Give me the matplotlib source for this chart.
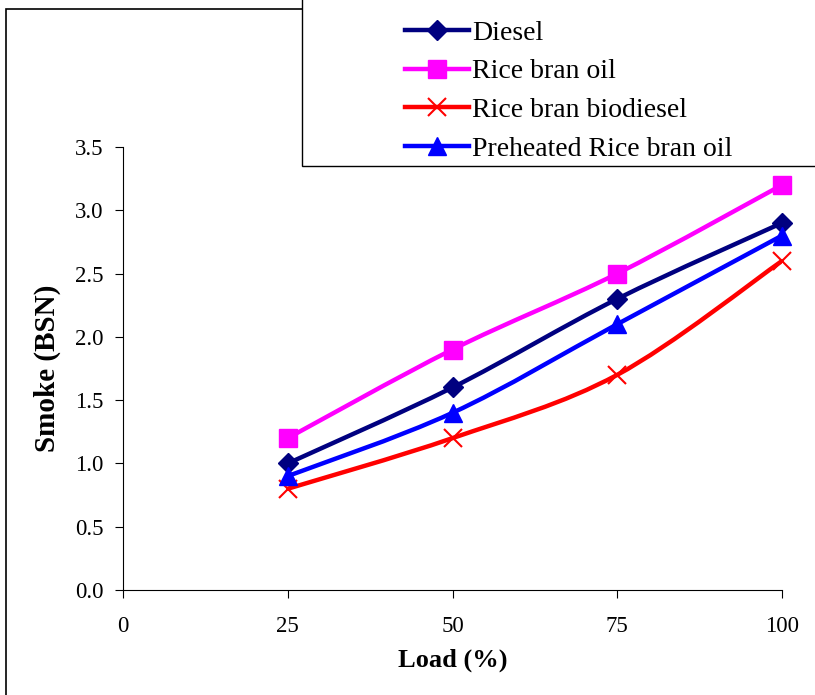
import numpy as np
import matplotlib.pyplot as plt
from matplotlib.path import Path
from matplotlib.patches import PathPatch, Rectangle
from matplotlib.lines import Line2D

plt.rcParams['font.family'] = ['Liberation Serif', 'DejaVu Serif']

# Data
load = [25, 50, 75, 100]
diesel = [1.0, 1.6, 2.3, 2.9]
rice_bran_oil = [1.2, 1.9, 2.5, 3.2]
rice_bran_biodiesel = [0.8, 1.2, 1.7, 2.6]
preheated_rbo = [0.9, 1.4, 2.1, 2.8]

series = [
    ("Diesel", diesel, '#000080', 'D', 10.5, 0),
    ("Rice bran oil", rice_bran_oil, '#FF00FF', 's', 13.5, 0),
    ("Rice bran biodiesel", rice_bran_biodiesel, '#FF0000', 'x', 13.5, 1.5),
    ("Preheated Rice bran oil", preheated_rbo, '#0000FF', '^', 13.5, 0),
]


def smooth_path(x, y):
    # Catmull-Rom style bezier through the points (like Excel smoothed lines)
    pts = np.column_stack([x, y]).astype(float)
    ext = np.vstack([pts[0], pts, pts[-1]])
    verts = [pts[0]]
    codes = [Path.MOVETO]
    for i in range(1, len(ext) - 2):
        p0, p1, p2, p3 = ext[i - 1], ext[i], ext[i + 1], ext[i + 2]
        c1 = p1 + (p2 - p0) / 6.0
        c2 = p2 - (p3 - p1) / 6.0
        verts += [c1, c2, p2]
        codes += [Path.CURVE4] * 3
    return Path(verts, codes)


fig = plt.figure(figsize=(8.15, 6.95), dpi=100)
ax = fig.add_axes([123 / 815, 1 - 590 / 695, (782 - 123) / 815, (590 - 147) / 695])

handles = []
for name, vals, color, mk, ms, mew in series:
    patch = PathPatch(smooth_path(load, vals), facecolor='none', edgecolor=color,
                      linewidth=3.2, transform=ax.transData, zorder=2)
    ax.add_patch(patch)
    ax.plot(load, vals, linestyle='none', marker=mk, markersize=ms, color=color,
            markeredgewidth=mew if mew else 1, zorder=3, clip_on=False)
    handles.append(Line2D([], [], color=color, linewidth=3.2, marker=mk,
                          markersize=ms, markeredgewidth=mew if mew else 1))

ax.set_xlim(0, 100)
ax.set_ylim(0, 3.5)
ax.set_xticks([0, 25, 50, 75, 100])
ax.set_yticks(np.arange(0, 3.51, 0.5))
ax.yaxis.set_major_formatter(plt.FuncFormatter(lambda v, p: f"{v:.1f}"))
ax.spines['top'].set_visible(False)
ax.spines['right'].set_visible(False)
ax.tick_params(axis='x', direction='out', length=6, pad=13, labelsize=16.5)
ax.tick_params(axis='y', direction='out', length=6, pad=8, labelsize=16.5)
ax.set_xlabel('Load (%)', fontsize=19, fontweight='bold', labelpad=8)
ax.set_ylabel('Smoke (BSN)', fontsize=21, fontweight='bold', labelpad=10)

# outer frame (left and top edges visible, the rest runs off the picture)
fig.add_artist(Rectangle((6 / 815, -0.5), 2.0, 1.5 - 9 / 695, transform=fig.transFigure,
                         facecolor='none', edgecolor='black', linewidth=1.2, clip_on=False))
# legend box
fig.add_artist(Rectangle((302 / 815, 1 - 166 / 695), 2.0, 2.0, transform=fig.transFigure,
                         facecolor='white', edgecolor='black', linewidth=1.0, clip_on=False))

leg = fig.legend(handles, [s[0] for s in series], loc='upper left',
                 bbox_to_anchor=(394 / 815, 1 - 9 / 695), frameon=False,
                 fontsize=20, handlelength=2.3, handletextpad=0.1,
                 labelspacing=0.48, borderaxespad=0)

fig.savefig('out.png', dpi=100)
